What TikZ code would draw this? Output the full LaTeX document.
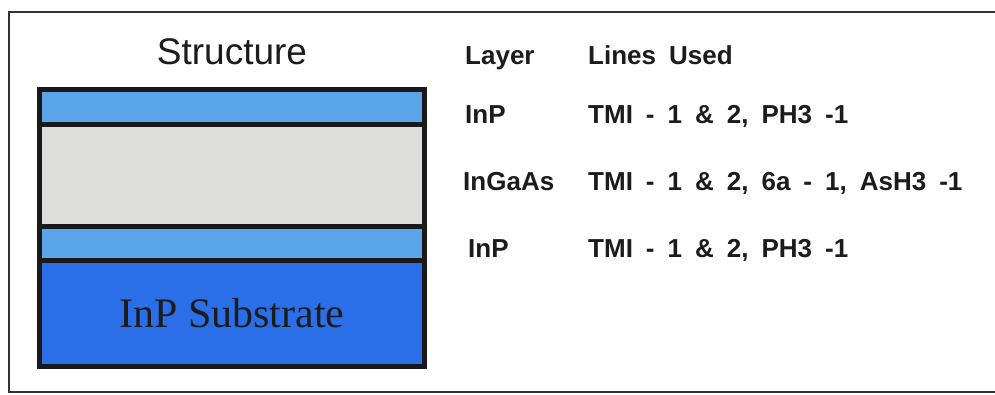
\documentclass[tikz,border=0pt]{standalone}
\usepackage{fontspec}
\setmainfont{Liberation Sans}
\newfontfamily\lblfont[WordSpace=1.8]{Liberation Sans}
\newfontfamily\subfont{Liberation Serif}
\definecolor{lightlayer}{RGB}{90,166,232}
\definecolor{graylayer}{RGB}{221,221,219}
\definecolor{darklayer}{RGB}{42,111,232}
\definecolor{inktext}{RGB}{28,28,28}
\begin{document}
\begin{tikzpicture}[x=1pt,y=-1pt,
  layerbox/.style={draw=black!90, line width=5pt, minimum width=384.5pt, minimum height=#1, inner sep=0pt, outer sep=0pt},
  lbl/.style={font=\lblfont\bfseries\fontsize{26}{26}\selectfont, anchor=base west, inner sep=0pt, text=inktext}]
\useasboundingbox (0,0) rectangle (995,395);
\fill[white] (0,0) rectangle (995,395);
\draw[line width=2.5pt, draw=black!80] (995,12) -- (9,12) -- (9,392) -- (995,392);
% title
\node[anchor=base, inner sep=0pt, font=\fontsize{37}{37}\selectfont, text=inktext] (title) at (232,65) {Structure};
% layer stack
\node[layerbox=35pt, fill=lightlayer] (inptop) at (231.75,107.5) {};
\node[layerbox=102pt, fill=graylayer] (ingaas) at (231.75,176) {};
\node[layerbox=33pt, fill=lightlayer] (inpbot) at (231.75,243.5) {};
\node[layerbox=106pt, fill=darklayer, font=\subfont\fontsize{42}{42}\selectfont, text=inktext] (substrate) at (231.75,313) {InP Substrate};
% table
\node[lbl] (hlayer) at (465,65) {Layer};
\node[lbl] (hlines) at (588,65) {Lines Used};
\node[lbl] (l1) at (465,124) {InP};
\node[lbl] (g1) at (588,124) {TMI - 1 \& 2, PH3 -1};
\node[lbl] (l2) at (463,191) {InGaAs};
\node[lbl] (g2) at (588,191) {TMI - 1 \& 2, 6a - 1, AsH3 -1};
\node[lbl] (l3) at (468,258) {InP};
\node[lbl] (g3) at (588,258) {TMI - 1 \& 2, PH3 -1};
\end{tikzpicture}
\end{document}
